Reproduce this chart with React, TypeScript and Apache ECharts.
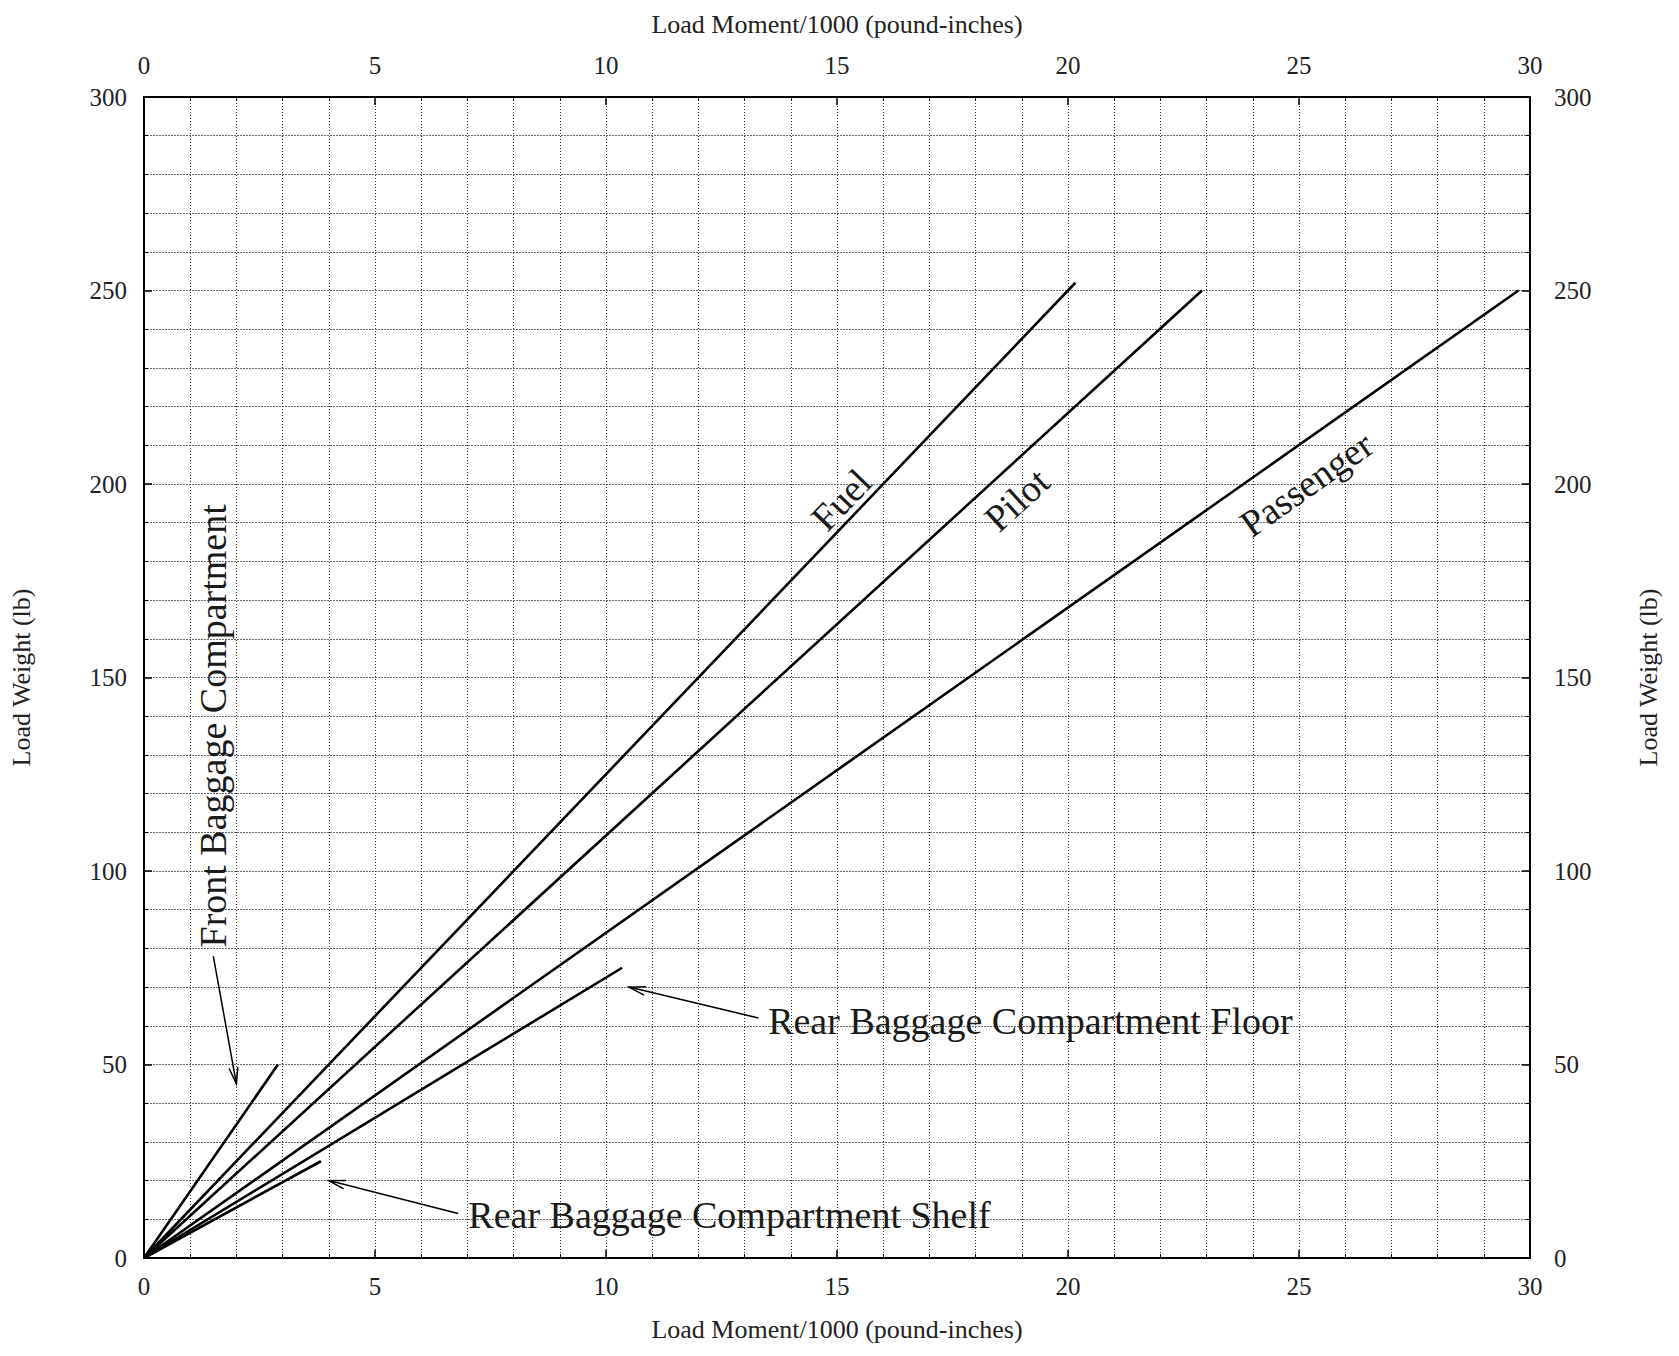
import React, { useEffect, useRef } from "react";
import * as echarts from "echarts";

const FONT = '"Liberation Serif", "Times New Roman", "DejaVu Serif", serif';

const momentAxisName = "Load Moment/1000 (pound-inches)";
const weightAxisName = "Load Weight (lb)";

// Loading lines: each runs from the origin to its maximum load.
const stations = [
  "Front Baggage Compartment",
  "Fuel",
  "Pilot",
  "Passenger",
  "Rear Baggage Compartment Floor",
  "Rear Baggage Compartment Shelf",
];
const maxMoment = [2.9, 20.16, 22.9, 29.75, 10.35, 3.83];
const maxWeight = [50, 252, 250, 250, 75, 25];

// Station labels, anchored in data coordinates.
// mode: "vertical" = rotated 90deg, "along" = follows its line, "flat" = horizontal, left aligned
const labelStation = [0, 1, 2, 3, 4, 5];
const labelMoment = [1.49, 15.09, 18.89, 25.16, 13.51, 7.02];
const labelWeight = [137.5, 195.9, 195.9, 200, 61.3, 11.2];
const labelMode = ["vertical", "along", "along", "along", "flat", "flat"];

// Pointer arrows from a label to its line.
const arrowFromMoment = [1.5, 13.3, 6.8];
const arrowFromWeight = [78, 62, 11.5];
const arrowToMoment = [2.0, 10.5, 4.0];
const arrowToWeight = [45, 70, 20];

function buildOption(): echarts.EChartsOption {
  const nameStyle = { fontFamily: FONT, fontSize: 26, color: "#222" };
  const labelStyle = { fontFamily: FONT, fontSize: 25, color: "#222" };
  const axisLine = { show: true, onZero: false, lineStyle: { color: "#000", width: 2 } };
  const axisTick = { show: true, inside: true, length: 8, lineStyle: { color: "#000", width: 1.5 } };
  const minorTick = { show: true, splitNumber: 5, length: 4, lineStyle: { color: "#000", width: 1 } };
  const vGrid = { show: true, lineStyle: { color: "#333", width: 1, type: [1, 2] as number[] } };
  const hGrid = { show: true, lineStyle: { color: "#666", width: 1, type: [2, 1] as number[] } };

  const lineSeries = stations.map((name, i) => ({
    type: "line" as const,
    name,
    xAxisIndex: 0,
    yAxisIndex: 0,
    data: [
      [0, 0],
      [maxMoment[i], maxWeight[i]],
    ],
    symbol: "none",
    silent: true,
    z: 5,
    lineStyle: { color: "#000", width: 2.6 },
  }));

  const labelSeries = {
    type: "custom" as const,
    xAxisIndex: 0,
    yAxisIndex: 0,
    silent: true,
    z: 6,
    data: labelStation.map((s, i) => [labelMoment[i], labelWeight[i], s]),
    renderItem: (params: any, api: any) => {
      const i = params.dataIndex;
      const s = labelStation[i];
      const p = api.coord([api.value(0), api.value(1)]);
      let rotation = 0;
      let align = "center";
      if (labelMode[i] === "vertical") {
        rotation = Math.PI / 2;
      } else if (labelMode[i] === "along") {
        const a = api.coord([0, 0]);
        const b = api.coord([maxMoment[s], maxWeight[s]]);
        rotation = Math.atan2(a[1] - b[1], b[0] - a[0]);
      } else {
        align = "left";
      }
      return {
        type: "text",
        x: p[0],
        y: p[1],
        rotation,
        style: {
          text: stations[s],
          fontFamily: FONT,
          fontSize: 38,
          fill: "#1a1a1a",
          align,
          verticalAlign: "middle",
        },
      };
    },
  };

  const arrowSeries = {
    type: "custom" as const,
    xAxisIndex: 0,
    yAxisIndex: 0,
    silent: true,
    z: 6,
    data: arrowFromMoment.map((m, i) => [m, arrowFromWeight[i], arrowToMoment[i], arrowToWeight[i]]),
    renderItem: (_params: any, api: any) => {
      const a = api.coord([api.value(0), api.value(1)]);
      const b = api.coord([api.value(2), api.value(3)]);
      const ang = Math.atan2(a[1] - b[1], a[0] - b[0]);
      const headLen = 17;
      const spread = (15 * Math.PI) / 180;
      const w1 = [b[0] + headLen * Math.cos(ang + spread), b[1] + headLen * Math.sin(ang + spread)];
      const w2 = [b[0] + headLen * Math.cos(ang - spread), b[1] + headLen * Math.sin(ang - spread)];
      const stroke = { stroke: "#000", lineWidth: 1.5, fill: "none" };
      return {
        type: "group",
        children: [
          { type: "line", shape: { x1: a[0], y1: a[1], x2: b[0], y2: b[1] }, style: stroke },
          { type: "polyline", shape: { points: [w1, b, w2] }, style: stroke },
        ],
      };
    },
  };

  return {
    animation: false,
    backgroundColor: "#fff",
    grid: { left: 142, right: 149, top: 97, bottom: 98, containLabel: false },
    xAxis: [
      {
        type: "value",
        position: "bottom",
        min: 0,
        max: 30,
        interval: 5,
        name: momentAxisName,
        nameLocation: "middle",
        nameGap: 58,
        nameTextStyle: nameStyle,
        axisLine,
        axisTick,
        minorTick,
        axisLabel: { ...labelStyle, margin: 16 },
        splitLine: vGrid,
        minorSplitLine: vGrid,
      },
      {
        type: "value",
        position: "top",
        min: 0,
        max: 30,
        interval: 5,
        name: momentAxisName,
        nameLocation: "middle",
        nameGap: 60,
        nameTextStyle: nameStyle,
        axisLine,
        axisTick,
        minorTick,
        axisLabel: { ...labelStyle, margin: 19 },
        splitLine: { show: false },
        minorSplitLine: { show: false },
      },
    ],
    yAxis: [
      {
        type: "value",
        position: "left",
        min: 0,
        max: 300,
        interval: 50,
        name: weightAxisName,
        nameLocation: "middle",
        nameGap: 110,
        nameTextStyle: nameStyle,
        axisLine,
        axisTick,
        minorTick,
        axisLabel: { ...labelStyle, margin: 17 },
        splitLine: hGrid,
        minorSplitLine: hGrid,
      },
      {
        type: "value",
        position: "right",
        min: 0,
        max: 300,
        interval: 50,
        name: weightAxisName,
        nameLocation: "middle",
        nameGap: 105,
        nameTextStyle: nameStyle,
        axisLine,
        axisTick,
        minorTick,
        axisLabel: { ...labelStyle, margin: 24 },
        splitLine: { show: false },
        minorSplitLine: { show: false },
      },
    ],
    series: [...lineSeries, labelSeries, arrowSeries] as any,
  };
}

export default function App() {
  const ref = useRef<HTMLDivElement>(null);
  useEffect(() => {
    document.body.style.margin = "0";
    document.body.style.overflow = "hidden";
    if (!ref.current) return;
    const chart = echarts.init(ref.current, undefined, { renderer: "svg" });
    chart.setOption(buildOption());
    return () => chart.dispose();
  }, []);
  return <div ref={ref} style={{ width: 1679, height: 1356 }} />;
}
